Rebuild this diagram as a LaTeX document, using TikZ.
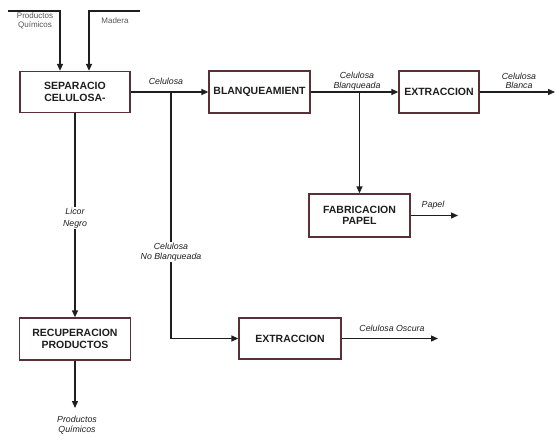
\documentclass[tikz,border=0pt]{standalone}
\usepackage{fontspec}
\setsansfont{Liberation Sans}
\usepackage{xcolor}
\definecolor{ink}{HTML}{1E1E1E}
\definecolor{boxc}{HTML}{5A3038}
\usetikzlibrary{arrows.meta,positioning,calc}
\tikzset{
  >=Triangle,
  font=\sffamily,
  proc/.style={draw=boxc,line width=1.3pt,fill=white,align=center,inner sep=2pt,
               font=\sffamily\bfseries\fontsize{10.5}{11.5}\selectfont,text=ink},
  flow/.style={-{Triangle[length=7pt,width=6pt]},line width=1.3pt,draw=ink},
  lbl/.style={font=\sffamily\itshape\fontsize{8.8}{9.5}\selectfont,text=ink,align=center,inner sep=1pt},
  tag/.style={font=\sffamily\fontsize{8}{9}\selectfont,text=ink!75,align=center,inner sep=1pt},
}
\begin{document}
\begin{tikzpicture}[x=1pt,y=-1pt]
  \useasboundingbox (0,0) rectangle (555,439);
  % ---- boxes ----
  \node[proc,minimum width=110pt,minimum height=41pt] (sep) at (75,92) {SEPARACIO\\CELULOSA-};
  \node[proc,minimum width=101pt,minimum height=42pt] (blq) at (259.5,92) {BLANQUEAMIENT};
  \node[proc,minimum width=80pt,minimum height=42pt] (ext) at (439,92) {EXTRACCION};
  \node[proc,minimum width=101pt,minimum height=43pt] (fab) at (359.5,215.5) {FABRICACION\\PAPEL};
  \node[proc,minimum width=111pt,minimum height=42pt] (rec) at (75,339) {RECUPERACION\\PRODUCTOS};
  \node[proc,minimum width=102pt,minimum height=41pt] (exo) at (290,338.5) {EXTRACCION};

  % ---- inputs ----
  \coordinate (pq) at (8,11);
  \coordinate (md) at (140,11);
  \draw[flow] (pq) -| ([xshift=-15pt]sep.north);
  \draw[flow] (md) -| ([xshift=14pt]sep.north);
  \node[tag] (tpq) at (35,21) {Productos\\Químicos};
  \node[tag] (tmd) at (115,21) {Madera};

  % ---- main line ----
  \draw[flow] (sep.east) -- (blq.west);
  \node[lbl] (tcel) at (166,81) {Celulosa};
  \draw[flow] (blq.east) -- (ext.west);
  \node[lbl] (tblq) at (357,81) {Celulosa\\Blanqueada};
  \coordinate (out1) at (555,92);
  \draw[flow] (ext.east) -- (out1);
  \node[lbl] (tbla) at (519,81) {Celulosa\\Blanca};

  % ---- branches ----
  \coordinate (br1) at (171,92);
  \draw[flow] (br1) |- (exo.west);
  \node[lbl,fill=white] (tnob) at (171,252) {Celulosa\\No Blanqueada};
  \coordinate (br2) at (359.5,92);
  \draw[flow] (br2) -- (fab.north);
  \coordinate (out2) at (458,215.5);
  \draw[flow] (fab.east) -- (out2);
  \node[lbl] (tpap) at (433,205) {Papel};
  \coordinate (out3) at (438,338.5);
  \draw[flow] (exo.east) -- (out3);
  \node[lbl] (tosc) at (392,328) {Celulosa Oscura};

  % ---- recovery ----
  \draw[flow] (sep.south) -- (rec.north);
  \node[lbl,fill=white,font=\sffamily\itshape\fontsize{8.8}{12}\selectfont] (tlic) at (75,218) {Licor\\Negro};
  \coordinate (out4) at (75,408);
  \draw[flow] (rec.south) -- (out4);
  \node[lbl] (tpqo) at (77,425) {Productos\\Químicos};
\end{tikzpicture}
\end{document}
